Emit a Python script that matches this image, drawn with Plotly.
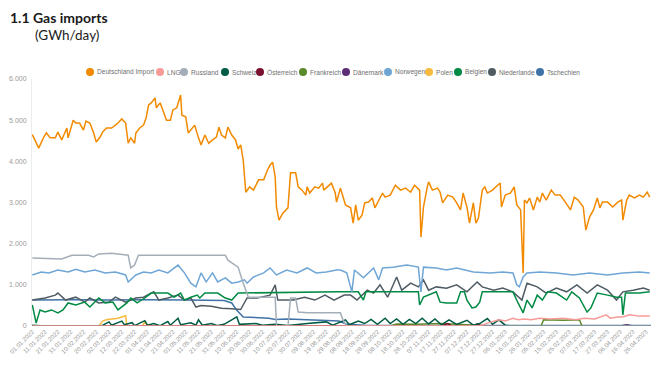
import datetime as dt
import plotly.graph_objects as go

BASE = dt.date(2022, 1, 1)

# ---------------- data (day offsets from 01.01.2022, values in GWh/day) ----------------
de_days = [0,5,9,11,14,18,20,23,27,28,32,34,37,40,42,45,48,50,53,55,58,62,65,67,70,73,75,77,80,81,84,87,89,91,93,96,97,100,103,105,108,110,113,116,117,120,122,124,127,130,132,135,138,141,144,146,148,151,153,156,159,161,163,165,167,170,173,177,181,184,186,188,190,191,193,196,200,202,206,208,211,214,215,217,221,224,227,228,231,234,237,238,241,245,249,251,253,255,258,260,263,266,268,271,274,276,280,284,288,292,296,299,303,304,306,309,310,313,317,319,321,325,329,332,335,337,340,342,345,347,349,352,354,356,360,364,366,367,370,374,377,379,382,384,385,387,389,392,395,397,399,402,406,409,413,417,421,424,427,431,433,436,439,442,444,446,450,454,458,461,462,465,467,471,475,478,481,483]
de_vals = [4650,4320,4590,4690,4570,4570,4710,4520,4810,4570,5000,4930,4930,4760,4980,4930,4690,4470,4590,4710,4810,4810,4880,4930,5030,4930,4440,4570,4440,4690,4810,4880,5050,5370,5420,5540,5300,5420,5170,5000,5000,5250,5300,5610,5120,5080,4690,4760,4880,4570,4400,4640,4440,4520,4590,4830,4640,4570,4830,4640,4520,4300,4400,4030,3250,3380,3300,3550,3550,3790,3910,3980,3620,2890,2570,2740,2870,3720,3720,3380,3300,3180,3380,3230,3380,3350,3470,3300,3380,3470,3230,3010,3350,2940,2870,2500,2940,2570,2700,2990,3010,3110,2870,3060,3230,3130,3180,3420,3300,3350,3250,3420,3300,2160,2890,3380,3500,3300,3350,3250,2990,3180,3130,2990,2820,3230,2890,2500,2990,2500,2620,3300,3380,3230,3300,3420,3470,2890,3180,3230,3380,2940,2820,1290,3060,2990,3110,2820,3130,3010,3230,3060,3300,3180,3180,3010,2820,3130,3060,2890,2330,2650,2820,3110,2870,3010,3010,2890,3010,3060,2570,3060,3180,3110,3180,3130,3250,3130]

lng_days = [0,350,356,360,365,370,376,380,385,390,397,405,415,425,432,440,445,449,452,458,462,467,475,483]
lng_vals = [0,0,70,100,150,120,190,150,170,150,190,170,190,150,190,170,220,270,190,220,220,270,240,240]

ru_days = [0,13,23,31,44,48,52,62,75,77,80,83,101,122,151,153,161,165,167,169,181,190,191,200,202,206,208,215,241,243,246,484]
ru_vals = [1650,1630,1630,1720,1720,1680,1750,1770,1720,1410,1480,1720,1720,1720,1720,1600,1430,1040,870,700,700,700,0,0,680,680,340,320,320,150,0,0]

ch_days = [0,10,54,60,62,70,72,78,80,88,90,95,100,106,108,114,116,124,128,130,133,140,145,150,160,162,175,180,190,200,215,230,235,245,248,255,260,265,270,276,280,285,290,295,300,305,310,315,320,326,332,340,345,350,356,360,365,370,375,484]
ch_vals = [20,0,0,100,20,120,30,80,10,130,20,60,10,110,20,190,30,80,20,150,20,60,10,40,220,40,60,20,40,10,60,100,20,150,30,120,60,160,40,190,60,170,40,160,60,190,50,170,30,150,40,140,20,60,180,40,150,20,0,0]

at_days = [0,320,325,328,345,348,351,484]
at_vals = [0,0,60,0,0,50,0,0]

fr_days = [0,280,285,300,320,340,360,398,400,415,428,430,484]
fr_vals = [0,0,50,40,60,30,0,0,150,140,150,0,0]

dk_days = [0,460,465,470,484]
dk_vals = [0,0,30,0,0]

no_days = [0,7,13,20,28,34,41,49,57,65,73,75,81,87,93,99,106,114,119,124,128,132,136,141,145,151,156,161,166,168,173,181,186,191,199,207,215,222,230,238,241,246,250,252,259,267,271,274,282,293,302,304,306,316,324,332,345,358,368,376,379,381,384,387,397,410,423,436,450,462,475,483]
no_vals = [1240,1310,1290,1360,1310,1380,1310,1360,1290,1310,1240,1070,1240,1310,1290,1360,1290,1480,1290,1040,950,1290,1070,1290,1070,1170,1040,1070,1120,1040,1190,1290,1410,1240,1360,1290,1410,1290,1310,1360,1360,1290,830,1360,1170,1410,1120,1410,1430,1480,1430,830,1430,1410,1360,1410,1310,1290,1310,1290,1000,950,1190,1290,1310,1290,1240,1290,1240,1290,1310,1290]

pl_days = [0,52,55,58,62,66,70,73,74,86,88,90,92,484]
pl_vals = [0,0,120,150,170,180,220,250,0,0,100,20,0,0]

be_days = [0,3,6,10,15,20,24,28,34,41,45,52,57,63,67,74,77,82,88,93,101,106,111,116,119,124,129,131,135,145,151,156,161,200,240,255,259,261,288,302,303,306,316,319,324,332,335,338,340,344,347,350,352,376,380,384,387,391,395,399,403,410,418,422,428,434,437,440,442,450,457,461,462,464,475,483]
be_vals = [510,70,390,340,390,320,390,560,510,580,460,680,560,580,390,560,680,560,680,800,800,800,700,800,630,700,750,680,800,800,680,630,800,820,830,830,630,830,830,830,510,700,830,580,560,560,830,830,630,440,460,580,830,830,560,320,630,440,750,630,830,800,630,830,680,340,440,680,800,750,700,700,270,800,800,830]

nl_days = [0,10,18,20,26,34,41,45,52,60,65,73,81,87,95,99,106,114,119,124,128,132,140,148,156,163,168,176,186,190,192,204,213,221,229,236,244,249,254,262,267,272,278,285,289,296,302,306,310,316,324,332,340,348,352,361,368,376,383,387,395,402,410,418,426,434,442,450,457,462,470,478,483]
nl_vals = [630,680,750,800,630,700,580,680,560,580,700,580,680,700,830,630,680,750,630,680,460,500,480,430,420,400,680,680,750,1000,630,630,700,630,750,630,750,750,630,870,800,1000,700,1190,870,1040,950,1120,870,950,920,1000,830,1070,950,870,920,830,630,1040,950,800,920,830,1000,800,1000,870,630,830,870,920,870]

cz_days = [0,30,60,90,120,150,156,160,165,175,185,190,200,215,240,246,260,300,484]
cz_vals = [630,640,630,640,630,620,560,380,220,200,190,160,170,150,120,40,20,10,10]

names = ["Deutschland Import", "LNG", "Russland", "Schweiz", "Österreich", "Frankreich",
         "Dänemark", "Norwegen", "Polen", "Belgien", "Niederlande", "Tschechien"]
colors = ["#f28a00", "#f79a98", "#a4aeb8", "#005c45", "#7b1030", "#5b8a2b",
          "#5e2d74", "#6fa6d6", "#f7b93e", "#008a43", "#4f5b63", "#3f72a6"]
series = [(de_days, de_vals), (lng_days, lng_vals), (ru_days, ru_vals), (ch_days, ch_vals),
          (at_days, at_vals), (fr_days, fr_vals), (dk_days, dk_vals), (no_days, no_vals),
          (pl_days, pl_vals), (be_days, be_vals), (nl_days, nl_vals), (cz_days, cz_vals)]

legend_px = [90, 160, 184, 225, 260, 303, 346, 388, 429, 458, 492, 540]

# ---------------- figure ----------------
OFF = 8                      # page body margin of the html page
W, H = 667 - 2 * OFF, 369 - 2 * OFF
L = 32 - OFF
T = 79 - OFF
R = W - (651 - OFF)
B = H - (326 - OFF)
PW, PH = W - L - R, H - T - B

def to_dates(days):
    return [BASE + dt.timedelta(days=d) for d in days]

fig = go.Figure()
draw_order = [11, 10, 9, 8, 7, 6, 5, 4, 3, 2, 1, 0]
for i in draw_order:
    d, v = series[i]
    fig.add_trace(go.Scatter(x=to_dates(d), y=v, mode="lines", name=names[i],
                             line=dict(color=colors[i], width=1.5), showlegend=False,
                             hoverinfo="skip"))

def px2paper_x(px):
    return (px - OFF - L) / PW

def py2paper_y(py):
    return (H - B - (py - OFF)) / PH

shapes, annotations = [], []
leg_y = py2paper_y(72)
for name, col, cx in zip(names, colors, legend_px):
    shapes.append(dict(type="circle", xref="paper", yref="paper",
                       xsizemode="pixel", ysizemode="pixel",
                       xanchor=px2paper_x(cx), yanchor=leg_y,
                       x0=-4, x1=4, y0=-4, y1=4,
                       fillcolor=col, line=dict(width=0)))
    annotations.append(dict(text=name, xref="paper", yref="paper",
                            x=px2paper_x(cx + 5), y=leg_y, xanchor="left", yanchor="middle",
                            showarrow=False, font=dict(size=6.6, color="#707070",
                                                       family="Liberation Sans, Arial, sans-serif")))

annotations.append(dict(text="<b>1.1 Gas imports</b>", xref="paper", yref="paper",
                        x=px2paper_x(8), y=py2paper_y(17), xanchor="left", yanchor="middle",
                        showarrow=False, font=dict(size=14, color="#1a1a1a", family="Lato, sans-serif")))
annotations.append(dict(text="(GWh/day)", xref="paper", yref="paper",
                        x=px2paper_x(33), y=py2paper_y(35), xanchor="left", yanchor="middle",
                        showarrow=False, font=dict(size=13.5, color="#1a1a1a", family="Lato, sans-serif")))

fig.update_layout(
    width=W, height=H,
    margin=dict(l=L, r=R, t=T, b=B, pad=0),
    paper_bgcolor="white", plot_bgcolor="white",
    separators=",.",
    showlegend=False,
    shapes=shapes, annotations=annotations,
    font=dict(family="Liberation Sans, Arial, sans-serif", size=7, color="#999999"),
)
fig.update_xaxes(type="date",
                 range=[dt.datetime(2021, 12, 31, 18), dt.datetime(2023, 4, 30)],
                 automargin=False, ticklabeloverflow="allow",
                 tick0=BASE, dtick=10 * 86400000, tickformat="%d.%m.%Y", tickangle=-45,
                 showgrid=False, zeroline=False, showline=False, ticks="",
                 tickfont=dict(size=6.2, color="#999999"))
fig.update_yaxes(range=[0, 6000], dtick=1000, tickformat=",d", showgrid=False, automargin=False,
                 zeroline=False, showline=True, linecolor="#ececec", linewidth=1, ticks="",
                 ticklabelstandoff=3, ticklabeloverflow="allow",
                 tickfont=dict(size=7, color="#999999"))

fig.write_html("out.html")
